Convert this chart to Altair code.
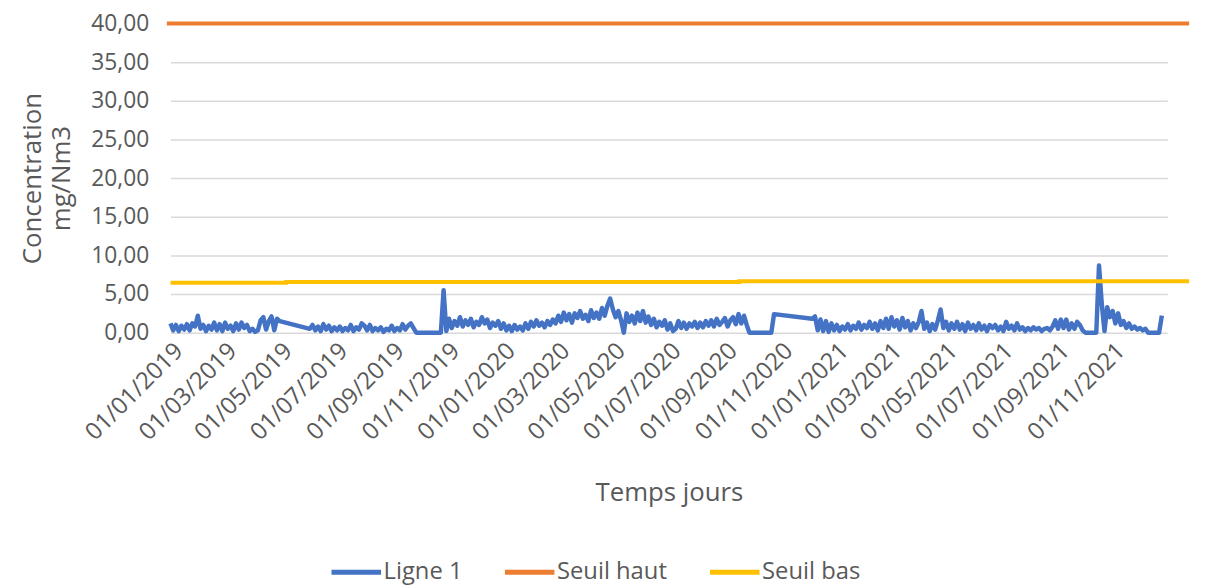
import altair as alt
import numpy as np
import pandas as pd

N = None
# Ligne 1 : one reading every 3 days from 2019-01-01 (None = no data, line joins across)
ligne1_start = "2019-01-01"
ligne1_step_days = 3
ligne1 = [
    1.2, 0.3, 1.0, 0.2, 0.9, 0.4, 1.1, 0.3, 1.2, 0.8,
    2.2, 0.5, 1.0, 0.2, 0.9, 0.4, 1.3, 0.3, 1.1, 0.2,
    1.3, 0.5, 0.9, 0.2, 1.2, 0.4, 1.3, 0.6, 1.0, 0.2,
    0.5, 0.1, 0.3, 1.6, 2.0, 0.4, 1.5, 2.1, 0.3, 1.8,
    1.5, N, N, N, N, N, N, N, N, N,
    N, 0.5, 1.0, 0.3, 0.8, 0.2, 1.1, 0.4, 0.9, 0.2,
    0.7, 0.3, 0.8, 0.2, 0.6, 0.3, 1.0, 0.2, 0.7, 0.4,
    1.2, 0.9, 0.3, 1.0, 0.2, 0.6, 0.3, 0.7, 0.1, 0.5,
    0.3, 0.9, 0.2, 0.6, 0.3, 1.1, 0.4, 0.9, 1.2, 0.6,
    0.0, 0.0, 0.0, 0.0, 0.0, 0.0, 0.0, 0.0, 0.0, 0.0,
    5.5, 0.2, 1.8, 0.6, 1.5, 0.9, 2.0, 0.8, 1.6, 1.0,
    1.8, 0.7, 1.4, 1.0, 2.0, 1.2, 1.7, 0.6, 1.3, 0.9,
    1.5, 0.5, 1.2, 0.3, 0.9, 0.2, 1.0, 0.4, 0.8, 0.3,
    1.2, 0.5, 1.4, 0.8, 1.6, 0.9, 1.3, 0.7, 1.5, 1.0,
    1.7, 1.2, 2.2, 1.4, 2.6, 1.6, 2.4, 1.3, 2.5, 1.9,
    2.8, 1.8, 2.3, 1.5, 2.9, 1.9, 2.6, 1.8, 3.2, 2.2,
    3.5, 4.4, 3.0, 2.0, 2.8, 1.6, 0.0, 2.5, 1.4, 2.2,
    1.2, 2.6, 1.5, 2.8, 1.3, 2.1, 1.0, 1.8, 0.7, 1.4,
    0.9, 1.6, 0.4, 1.2, 0.2, 0.5, 1.5, 0.6, 1.3, 0.5,
    1.2, 0.8, 1.4, 0.6, 1.3, 0.7, 1.5, 0.9, 1.6, 0.8,
    1.8, 1.0, 1.4, 1.9, 0.8, 1.6, 2.0, 1.1, 2.4, 1.2,
    2.2, 1.0, 0.0, 0.0, 0.0, 0.0, 0.0, 0.0, 0.0, 0.0,
    0.0, 2.4, N, N, N, N, N, N, N, N,
    N, N, N, N, N, 1.8, 2.1, 0.3, 1.7, 0.2,
    1.5, 0.1, 1.2, 0.3, 1.0, 0.2, 0.8, 0.4, 1.1, 0.3,
    0.9, 0.5, 1.3, 0.4, 1.0, 0.6, 1.4, 0.5, 1.2, 0.3,
    1.5, 0.6, 1.8, 0.5, 2.0, 0.8, 1.6, 0.4, 1.9, 0.7,
    1.5, 0.3, 1.2, 0.6, 1.4, 2.8, 0.5, 1.3, 0.2, 1.1,
    0.4, 1.6, 3.0, 0.6, 1.4, 0.3, 1.2, 0.5, 1.4, 0.4,
    1.1, 0.2, 1.3, 0.5, 1.0, 0.3, 1.2, 0.4, 0.9, 0.2,
    1.0, 0.6, 1.0, 0.3, 0.8, 0.2, 1.4, 0.5, 0.9, 0.3,
    1.2, 0.4, 0.7, 0.2, 0.6, 0.3, 0.7, 0.4, 0.6, 0.2,
    0.5, 0.6, 0.3, 0.8, 1.6, 0.5, 1.7, 0.6, 1.7, 0.4,
    1.2, 0.5, 1.4, 1.0, 0.3, 0.0, 0.0, 0.0, 0.0, 0.0,
    8.7, 3.8, 0.2, 3.3, 2.0, 2.8, 1.2, 2.5, 1.0, 1.5,
    0.6, 1.2, 0.5, 0.8, 0.4, 0.6, 0.3, 0.5, 0.0, 0.0,
    0.0, 0.0, 0.0, 2.2,
]

seuil_haut_dates = ["2018-12-28", "2022-01-24"]
seuil_haut_values = [40.0, 40.0]
seuil_bas_dates = ["2019-01-01", "2019-05-08", "2020-09-17", "2022-01-24"]
seuil_bas_values = [6.45, 6.55, 6.65, 6.65]

series_names = ["Ligne 1", "Seuil haut", "Seuil bas"]
series_colors = ["#4472C4", "#ED7D31", "#FFC000"]
y_ticks = [0, 5, 10, 15, 20, 25, 30, 35, 40]
x_tick_years = [2019, 2020, 2021]
x_tick_months = [1, 3, 5, 7, 9, 11]

dates = pd.Timestamp(ligne1_start) + pd.to_timedelta(
    np.arange(len(ligne1)) * ligne1_step_days, unit="D")
df_l1 = pd.DataFrame({"date": dates.strftime("%Y-%m-%d"),
                      "value": pd.array(ligne1, dtype="Float64"),
                      "serie": "Ligne 1"}).dropna()
df_l1["value"] = df_l1["value"].astype(float)
df_thr = pd.concat([
    pd.DataFrame({"date": seuil_haut_dates, "value": seuil_haut_values, "serie": "Seuil haut"}),
    pd.DataFrame({"date": seuil_bas_dates, "value": seuil_bas_values, "serie": "Seuil bas"}),
])

FONT = "Open Sans"
GREY = "#595959"

tick_values = [alt.DateTime(year=y, month=m, date=1) for y in x_tick_years for m in x_tick_months]

x_enc = alt.X(
    "date:T",
    scale=alt.Scale(domain=[alt.DateTime(year=2019, month=1, date=1),
                            alt.DateTime(year=2021, month=12, date=31)]),
    axis=alt.Axis(values=tick_values, format="%d/%m/%Y", labelAngle=-45,
                  labelAlign="right", labelBaseline="top", labelPadding=6,
                  grid=False, domain=False, ticks=False, labelFont=FONT,
                  labelFontSize=24, labelColor=GREY, title="Temps jours",
                  titleFont=FONT, titleFontSize=26, titleFontWeight="normal",
                  titleColor=GREY, titlePadding=35, labelOverlap=False),
)
y_enc = alt.Y(
    "value:Q",
    scale=alt.Scale(domain=[0, 40], nice=False),
    axis=alt.Axis(values=y_ticks,
                  labelExpr="replace(format(datum.value, '.2f'), '.', ',')",
                  domain=False, ticks=False, labelPadding=22, labelFont=FONT,
                  labelFontSize=23, labelColor=GREY, gridColor="#D9D9D9",
                  gridWidth=1.5, title=["Concentration", "mg/Nm3"],
                  titleFont=FONT, titleFontSize=26, titleFontWeight="normal",
                  titleColor=GREY, titlePadding=16, titleLineHeight=30),
)
color_enc = alt.Color(
    "serie:N",
    scale=alt.Scale(domain=series_names, range=series_colors),
    legend=alt.Legend(title=None, orient="none", legendX=160, legendY=526,
                      direction="horizontal",
                      symbolType="stroke", symbolSize=2500, symbolStrokeWidth=5,
                      labelFont=FONT, labelFontSize=24, labelColor=GREY,
                      columnPadding=32, labelOffset=0),
)

line1 = alt.Chart(df_l1).mark_line(strokeWidth=4.5, strokeJoin="round").encode(
    x=x_enc, y=y_enc, color=color_enc, detail="serie:N")
thr = alt.Chart(df_thr).mark_line(strokeWidth=4, interpolate="step-after").encode(
    x=x_enc, y=y_enc, color=color_enc, detail="serie:N")

chart = alt.layer(line1, thr).properties(
    width=1006, height=312,
    padding={"left": 11, "top": 2, "right": 0, "bottom": 0},
).configure_view(stroke=None)

chart.save("out.html", embed_options={"renderer": "svg", "actions": False})
